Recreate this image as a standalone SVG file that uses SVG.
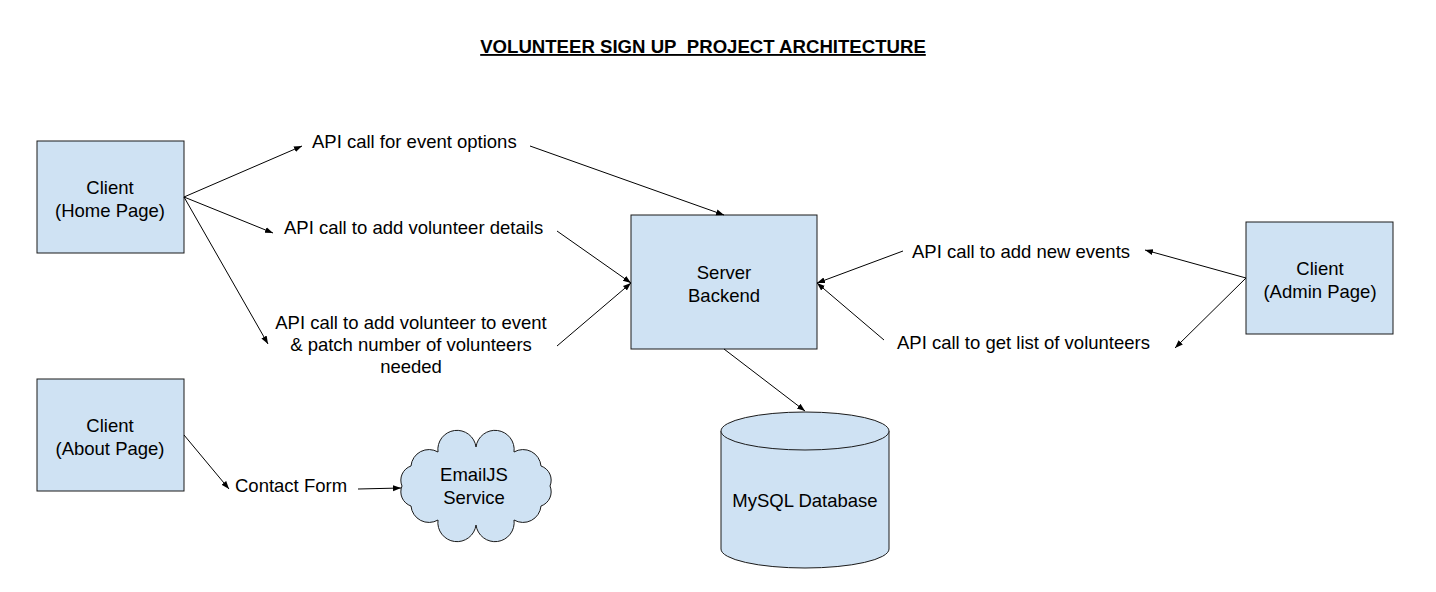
<svg xmlns="http://www.w3.org/2000/svg" width="1436" height="592" viewBox="0 0 1436 592">
<style>
.box{fill:#cfe2f3;stroke:#1a1a1a;stroke-width:1}
.t{font-family:"Liberation Sans",Arial,sans-serif;font-size:18.5px;fill:#000;text-anchor:middle;dominant-baseline:central}
.lbl{font-family:"Liberation Sans",Arial,sans-serif;font-size:18.5px;fill:#000;dominant-baseline:central}
.title{font-family:"Liberation Sans",Arial,sans-serif;font-size:18.6px;font-weight:bold;fill:#000;text-anchor:middle;text-decoration:underline;white-space:pre}
.c{stroke:#000;stroke-width:1;fill:none;marker-end:url(#ah)}
</style>
<defs>
<marker id="ah" markerUnits="userSpaceOnUse" markerWidth="8" markerHeight="8" viewBox="0 0 8 8" refX="8" refY="4" orient="auto">
<path d="M0,1 L8,4 L0,7 Z" fill="#000"/>
</marker>
</defs>
<rect width="1436" height="592" fill="#fff"/>
<text class="title" x="703" y="53">VOLUNTEER SIGN UP&#160; PROJECT ARCHITECTURE</text>

<g id="home">
<rect class="box" x="37" y="141" width="147" height="112"/>
<text class="t" x="110" y="187">Client</text>
<text class="t" x="110" y="210">(Home Page)</text>
</g>
<g id="about">
<rect class="box" x="37" y="379" width="147" height="112"/>
<text class="t" x="110" y="425">Client</text>
<text class="t" x="110" y="448">(About Page)</text>
</g>
<g id="server">
<rect class="box" x="631" y="215" width="186" height="134"/>
<text class="t" x="724" y="272">Server</text>
<text class="t" x="724" y="295">Backend</text>
</g>
<g id="admin">
<rect class="box" x="1246" y="222" width="147" height="112"/>
<text class="t" x="1320" y="268">Client</text>
<text class="t" x="1320" y="291">(Admin Page)</text>
</g>
<g id="db">
<path class="box" d="M721,431 L721,549 A84,19 0 0 0 889,549 L889,431"/>
<ellipse class="box" cx="805" cy="431" rx="84" ry="19"/>
<text class="t" x="805" y="500">MySQL Database</text>
</g>
<g id="emailjs">
<path class="box" d="M550,486 A15,15 0 0 1 541,506 A18,18 0 0 1 514,520 A18,18 0 0 1 476,525 A18,18 0 0 1 438,520 A18,18 0 0 1 411,506 A15,15 0 0 1 402,486 A15,15 0 0 1 411,466 A18,18 0 0 1 438,452 A18,18 0 0 1 476,447 A18,18 0 0 1 514,452 A18,18 0 0 1 541,466 A15,15 0 0 1 550,486 Z"/>
<text class="t" x="474" y="474">EmailJS</text>
<text class="t" x="474" y="497">Service</text>
</g>

<g id="labels">
<text class="lbl" x="312" y="141">API call for event options</text>
<text class="lbl" x="284" y="227">API call to add volunteer details</text>
<text class="t" x="411" y="322">API call to add volunteer to event</text>
<text class="t" x="411" y="344">&amp; patch number of volunteers</text>
<text class="t" x="411" y="366">needed</text>
<text class="lbl" x="912" y="251">API call to add new events</text>
<text class="lbl" x="897" y="342">API call to get list of volunteers</text>
<text class="lbl" x="235" y="485">Contact Form</text>
</g>

<g id="connectors">
<line class="c" x1="184" y1="197" x2="302" y2="146"/>
<line class="c" x1="184" y1="197" x2="273" y2="233"/>
<line class="c" x1="184" y1="197" x2="268" y2="344"/>
<line class="c" x1="530" y1="146" x2="724" y2="215"/>
<line class="c" x1="557" y1="231" x2="631" y2="283"/>
<line class="c" x1="557" y1="346" x2="631" y2="283"/>
<line class="c" x1="1246" y1="278" x2="1145" y2="250"/>
<line class="c" x1="1246" y1="278" x2="1175" y2="348"/>
<line class="c" x1="903" y1="251" x2="817" y2="283"/>
<line class="c" x1="884" y1="340" x2="817" y2="283"/>
<line class="c" x1="724" y1="349" x2="805" y2="411"/>
<line class="c" x1="184" y1="435" x2="229" y2="489"/>
<line class="c" x1="358" y1="489" x2="401" y2="488"/>
</g>
</svg>
